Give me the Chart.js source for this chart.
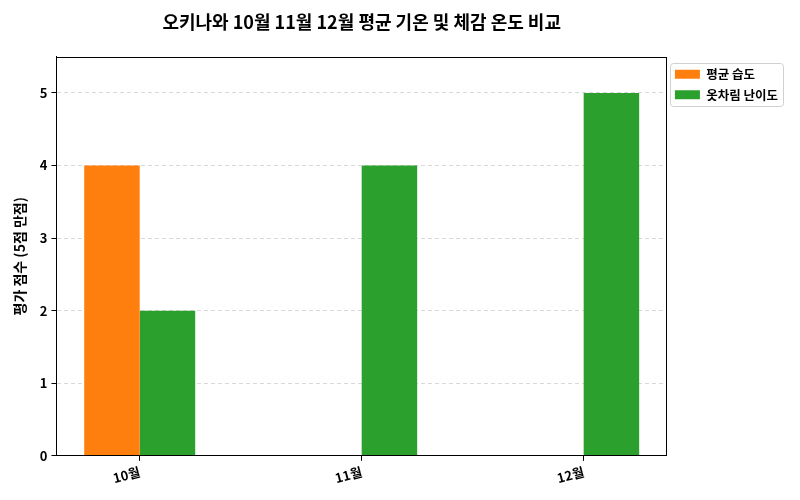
<!DOCTYPE html>
<html><head><meta charset="utf-8">
<script src="https://cdn.jsdelivr.net/npm/chart.js@4.4.1/dist/chart.umd.min.js"></script>
<style>html,body{margin:0;padding:0;background:#fff}#wrap{width:800px;height:500px}</style>
</head><body><div id="wrap"><canvas id="c"></canvas></div>
<script>
const categories = ['10월', '11월', '12월'];
const avgHumidity = [4, null, null];
const outfitDifficulty = [2, 4, 5];
const yTickValues = [0, 1, 2, 3, 4, 5];
const seriesNames = ['평균 습도', '옷차림 난이도'];
const titleText = '오키나와 10월 11월 12월 평균 기온 및 체감 온도 비교';
const yAxisTitle = '평가 점수 (5점 만점)';

const FONT = "'Noto Sans CJK KR', 'Noto Sans', sans-serif";
const toPoints = arr => arr.map((v, i) => ({x: i, y: v}));

const framePlugin = {
  id: 'frame',
  afterDraw(chart) {
    const {ctx, chartArea: a} = chart;
    ctx.save();
    ctx.strokeStyle = '#000';
    ctx.lineWidth = 1;
    const l = Math.round(a.left) + 0.5, t = Math.round(a.top) + 0.5;
    const r = Math.round(a.right) - 0.5, b = Math.round(a.bottom) - 0.5;
    ctx.strokeRect(l, t, r - l, b - t);
    const boxes = chart.legend.legendHitBoxes;
    if (boxes && boxes.length) {
      let x0 = Infinity, y0 = Infinity, x1 = -Infinity, y1 = -Infinity;
      boxes.forEach(h => {
        x0 = Math.min(x0, h.left); y0 = Math.min(y0, h.top);
        x1 = Math.max(x1, h.left + h.width); y1 = Math.max(y1, h.top + h.height);
      });
      x0 -= 5; y0 -= 5; x1 += 5; y1 += 5;
      ctx.strokeStyle = '#d0d0d0';
      ctx.beginPath();
      ctx.roundRect(Math.round(x0) + 0.5, Math.round(y0) + 0.5, Math.round(x1 - x0), Math.round(y1 - y0), 3);
      ctx.stroke();
    }
    ctx.restore();
  }
};

new Chart(document.getElementById('c'), {
  type: 'bar',
  data: {
    datasets: [
      {label: seriesNames[0], data: toPoints(avgHumidity), backgroundColor: '#ff7f0e', borderWidth: 0},
      {label: seriesNames[1], data: toPoints(outfitDifficulty), backgroundColor: '#2ca02c', borderWidth: 0}
    ]
  },
  options: {
    responsive: true,
    maintainAspectRatio: false,
    animation: false,
    datasets: {bar: {categoryPercentage: 0.5, barPercentage: 1.0}},
    layout: {padding: {left: 11, right: 12, top: 0, bottom: 11}},
    plugins: {
      title: {
        display: true, text: titleText, fullSize: false, color: '#000',
        font: {family: FONT, size: 18, weight: 'bold'},
        padding: {top: 11, bottom: 24}
      },
      legend: {
        position: 'right', align: 'start',
        title: {display: true, text: '', font: {size: 10}, padding: {top: 0, bottom: 48}},
        labels: {
          boxWidth: 25, boxHeight: 9, padding: 8, color: '#000',
          font: {family: FONT, size: 12.5, weight: 'bold'}
        }
      },
      tooltip: {enabled: false}
    },
    scales: {
      x: {
        type: 'linear', min: -0.375, max: 2.375, offset: false,
        afterBuildTicks: axis => { axis.ticks = categories.map((c, i) => ({value: i})); },
        ticks: {
          callback: v => categories[v], color: '#000', minRotation: 15, maxRotation: 15,
          padding: 3, font: {family: FONT, size: 13, weight: 'bold'}
        },
        grid: {offset: false, drawOnChartArea: false, drawTicks: true, tickLength: 5, tickColor: '#000'},
        border: {display: true, color: '#000', width: 1}
      },
      y: {
        min: 0, max: 5.5,
        afterBuildTicks: axis => { axis.ticks = yTickValues.map(v => ({value: v})); },
        ticks: {color: '#000', padding: 4, font: {family: FONT, size: 13, weight: 'bold'}},
        grid: {color: '#d9d9d9', lineWidth: 1, tickLength: 5, tickColor: '#000', tickBorderDash: [], drawTicks: true},
        border: {display: true, color: '#000', width: 1, dash: [4, 3]},
        title: {
          display: true, text: yAxisTitle, color: '#000',
          font: {family: FONT, size: 14, weight: 'bold'}, padding: {top: 0, bottom: 8}
        }
      }
    }
  },
  plugins: [framePlugin]
});
</script></body></html>
